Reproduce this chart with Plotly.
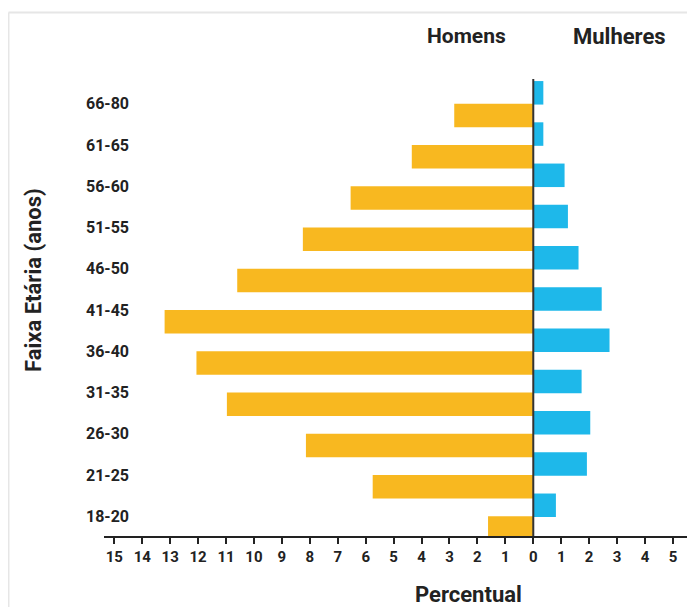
import plotly.graph_objects as go

categorias = ["18-20", "21-25", "26-30", "31-35", "36-40", "41-45",
              "46-50", "51-55", "56-60", "61-65", "66-80"]
homens = [1.62, 5.75, 8.14, 10.97, 12.06, 13.2, 10.6, 8.25, 6.54, 4.35, 2.83]
mulheres = [0.81, 1.92, 2.04, 1.73, 2.73, 2.45, 1.62, 1.24, 1.12, 0.36, 0.36]
x_ticks = list(range(-15, 6))
x_ticktext = [str(abs(v)) for v in x_ticks]

FONT = "Roboto, Liberation Sans, sans-serif"
TXT = "#222222"

fig = go.Figure()
fig.add_trace(go.Bar(
    y=categorias, x=[-v for v in homens], orientation="h",
    marker=dict(color="#F8B820", line=dict(width=0)),
    width=0.57, offset=-0.57, name="Homens", showlegend=False))
fig.add_trace(go.Bar(
    y=categorias, x=mulheres, orientation="h",
    marker=dict(color="#1EB8EA", line=dict(width=0)),
    width=0.57, offset=-0.02, name="Mulheres", showlegend=False))

# the page body adds an 8px offset, so margins are reduced by 8px
fig.update_layout(
    width=695, height=607,
    margin=dict(l=96, r=8, t=71, b=79, autoexpand=False),
    paper_bgcolor="white", plot_bgcolor="white",
    barmode="overlay",
    font=dict(family=FONT, color=TXT, weight="bold"),
    xaxis=dict(range=[-15.37, 5.79], tickvals=x_ticks, ticktext=x_ticktext,
               showgrid=False, zeroline=False, showline=True, automargin=False,
               linecolor=TXT, linewidth=2, ticks="outside", ticklen=6,
               tickwidth=2, tickcolor=TXT, ticklabelstandoff=0,
               tickfont=dict(size=15, family=FONT, color=TXT, weight="bold")),
    yaxis=dict(type="category", categoryorder="array", categoryarray=categorias,
               range=[-0.48, 10.6], showgrid=False, zeroline=False,
               showline=False, ticks="", ticklabelstandoff=-26, automargin=False,
               tickfont=dict(size=16, family=FONT, color=TXT, weight="bold")),
)

# zero line on top of bars
fig.add_shape(type="line", xref="x", yref="paper", x0=0, x1=0, y0=0, y1=1,
              line=dict(color="#333333", width=2), layer="above")
# light frame
fig.add_shape(type="line", xref="paper", yref="paper",
              x0=-0.1616, x1=-0.1616, y0=-0.2, y1=1.1455,
              line=dict(color="#e6e6e6", width=2))
fig.add_shape(type="line", xref="paper", yref="paper",
              x0=-0.1616, x1=1.05, y0=1.1455, y1=1.1455,
              line=dict(color="#e6e6e6", width=2))

def px_x(px):
    return (px - 104) / 591.0

def px_y(py):
    return (536 - py) / 457.0

def label(text, px, py, size, angle=0):
    fig.add_annotation(text=text, xref="paper", yref="paper",
                       x=px_x(px), y=px_y(py), showarrow=False,
                       xanchor="center", yanchor="middle", textangle=angle,
                       font=dict(size=size, family=FONT, color=TXT, weight="bold"))

label("Homens", 466, 36, 21)
label("Mulheres", 619, 36, 22)
label("Percentual", 468, 594, 22)
label("Faixa Etária (anos)", 33, 280, 22, angle=-90)

fig.write_html("out.html")
